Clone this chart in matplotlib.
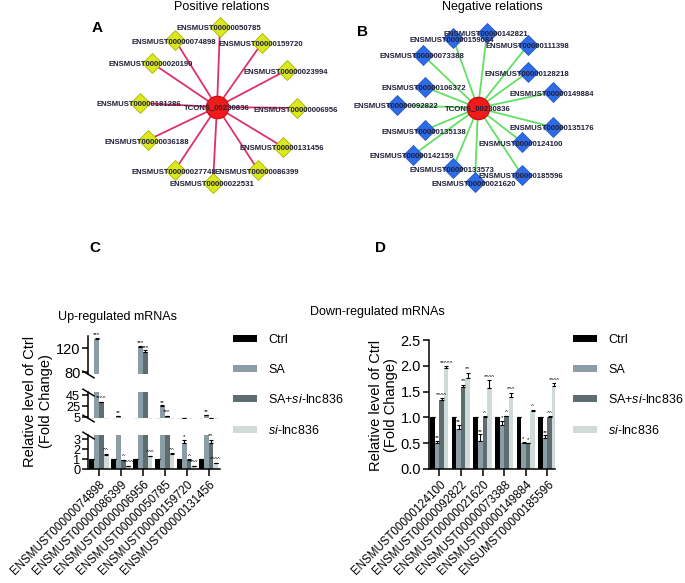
import matplotlib
matplotlib.use('Agg')
import matplotlib.pyplot as plt
from matplotlib.patches import Patch
import numpy as np

plt.rcParams['font.family'] = ['Liberation Sans', 'DejaVu Sans']
plt.rcParams['mathtext.fontset'] = 'custom'
plt.rcParams['mathtext.rm'] = 'Liberation Sans'
plt.rcParams['mathtext.it'] = 'Liberation Sans:italic'

W, H = 685, 583

# ---- network data (layout positions) ----
hub = 'TCONS_00230836'
pos_hub = (217, 107)
pos_genes = ['ENSMUST00000050785', 'ENSMUST00000074898', 'ENSMUST00000159720',
             'ENSMUST00000020190', 'ENSMUST00000023994', 'ENSMUST00000181286',
             'ENSMUST00000006956', 'ENSMUST00000036188', 'ENSMUST00000131456',
             'ENSMUST00000027748', 'ENSMUST00000086399', 'ENSMUST00000022531']
pos_x = [220, 175, 262, 152, 287, 140, 297, 148, 283, 175, 258, 213]
pos_y = [27, 40, 43, 63, 70, 103, 108, 140, 147, 170, 170, 183]

neg_hub = (478, 108)
neg_genes = ['ENSMUST00000142821', 'ENSMUST00000159084', 'ENSMUST00000111398',
             'ENSMUST00000073388', 'ENSMUST00000128218', 'ENSMUST00000106372',
             'ENSMUST00000149884', 'ENSMUST00000092822', 'ENSMUST00000135138',
             'ENSMUST00000135176', 'ENSMUST00000124100', 'ENSMUST00000142159',
             'ENSMUST00000133573', 'ENSMUST00000185596', 'ENSMUST00000021620']
neg_x = [487, 453, 528, 423, 528, 425, 553, 397, 425, 553, 522, 413, 453, 522, 475]
neg_y = [33, 38, 45, 55, 72, 87, 92, 105, 130, 127, 142, 155, 168, 175, 182]

# ---- bar data ----
groups = ['Ctrl', 'SA', 'SA+$\\mathit{si}$-lnc836', '$\\mathit{si}$-lnc836']
colors = ['#000000', '#8c9ea5', '#5d6d70', '#cfdbd8']

up_genes = ['ENSMUST00000074898', 'ENSMUST00000086399', 'ENSMUST00000006956',
            'ENSMUST00000050785', 'ENSMUST00000159720', 'ENSMUST00000131456']
up_ctrl = [1, 1, 1, 1, 1, 1]
up_sa = [135, 6, 121, 25, 2.6, 8]
up_sa_si = [32, 0.9, 113, 7, 0.9, 2.6]
up_si = [1.4, 0.3, 1.3, 1.5, 0.3, 0.6]
up_ctrl_err = [0, 0, 0, 0, 0, 0]
up_sa_err = [1.5, 0.5, 3, 1.2, 0.3, 0.6]
up_sa_si_err = [1.2, 0.05, 3, 0.5, 0.08, 0.3]
up_si_err = [0.1, 0.05, 0.05, 0.08, 0.04, 0.05]
up_sa_sig = ['***', '**', '***', '**', '*', '**']
up_sa_si_sig = ['**^^', '^', '***', '**^', '^', '*^']
up_si_sig = ['^^', '*^^^', '^^^', '^^', '*^^', '*^^^']

down_genes = ['ENSMUST00000124100', 'ENSMUST00000092822', 'ENSMUST00000021620',
              'ENSMUST00000073388', 'ENSMUST00000149884', 'ENSUMST00000185596']
down_ctrl = [1, 1, 1, 1, 1, 1]
down_sa = [0.5, 0.77, 0.55, 0.85, 0.5, 0.6]
down_sa_si = [1.33, 1.58, 1.0, 1.02, 0.5, 1.0]
down_si = [1.95, 1.77, 1.57, 1.4, 1.13, 1.6]
down_ctrl_err = [0, 0, 0, 0, 0, 0]
down_sa_err = [0.04, 0.08, 0.12, 0.08, 0.03, 0.05]
down_sa_si_err = [0.04, 0.05, 0.02, 0.01, 0.01, 0.02]
down_si_err = [0.04, 0.1, 0.15, 0.08, 0.01, 0.06]
down_sa_sig = ['**', '**', '**', '*', '*', '**']
down_sa_si_sig = ['*^^^', '*^', '^', '^', '*', '^^']
down_si_sig = ['**^^^', '*^', '*^^^', '*^^', '^', '*^^^']


def box(l, t, r, b):
    return [l / W, 1 - b / H, (r - l) / W, (b - t) / H]


fig = plt.figure(figsize=(W / 100, H / 100), dpi=100)

# ---- networks ----
net = fig.add_axes(box(0, 0, W, 235))
net.set_xlim(0, W)
net.set_ylim(235, 0)
net.axis('off')


def draw_net(center, xs, ys, names, edge_c, node_c, node_ec):
    cx, cy = center
    for x, y in zip(xs, ys):
        net.plot([cx, x], [cy, y], color=edge_c, lw=1.3, zorder=1)
    net.plot(xs, ys, 'D', ms=10, mfc=node_c, mec=node_ec, mew=0.6, ls='none', zorder=2)
    for x, y, n in zip(xs, ys, names):
        net.text(x - 1, y + 2, n, fontsize=5.6, fontweight='bold', ha='center', va='center',
                 color='#20203a', zorder=3)
    net.plot(cx, cy, 'o', ms=16, mfc='#f01c1c', mec='#d01010', zorder=2)
    net.text(cx, cy + 1, hub, fontsize=5.6, fontweight='bold', ha='center', va='center',
             color='#20203a', zorder=3)


draw_net(pos_hub, pos_x, pos_y, pos_genes, '#e0306a', '#dbe81c', '#a8b400')
draw_net(neg_hub, neg_x, neg_y, neg_genes, '#62e062', '#2e6be6', '#2a58c0')

fig.text(222 / W, 1 - 7 / H, 'Positive relations', ha='center', va='center', fontsize=9)
fig.text(492 / W, 1 - 7 / H, 'Negative relations', ha='center', va='center', fontsize=9)
for lab, x, y in [('A', 97, 28), ('B', 363, 32), ('C', 95, 248), ('D', 380, 248)]:
    fig.text(x / W, 1 - y / H, lab, ha='center', va='center', fontsize=11, fontweight='bold')


# ---- bar helpers ----
def style(ax, bottom=True, ysize=10.5):
    for s in ['top', 'right']:
        ax.spines[s].set_visible(False)
    ax.spines['left'].set_linewidth(1.1)
    ax.tick_params(axis='y', direction='out', length=4, width=1.1, labelsize=ysize, pad=1.5)
    if bottom:
        ax.spines['bottom'].set_linewidth(1.1)
        ax.tick_params(axis='x', direction='out', length=5, width=1.1, pad=2)
    else:
        ax.spines['bottom'].set_visible(False)
        ax.set_xticks([])
    ax.patch.set_alpha(0)


def draw_bars(ax, series, errs, bw):
    x = np.arange(len(series[0]))
    for i, (vals, err) in enumerate(zip(series, errs)):
        xi = x + (i - 1.5) * bw
        ax.bar(xi, vals, bw, color=colors[i], edgecolor='none', zorder=2)
        ax.errorbar(xi, vals, yerr=[np.zeros(len(err)), err], fmt='none', ecolor='black',
                    elinewidth=0.8, capsize=1.2, capthick=0.8, zorder=3)


def annotate(axes, series, errs, sigs, bw):
    for i in range(1, 4):
        for j, (v, e, s) in enumerate(zip(series[i], errs[i], sigs[i - 1])):
            top = v + e
            for ax in axes:
                lo, hi = ax.get_ylim()
                if lo < top <= hi:
                    ax.annotate(s, (j + (i - 1.5) * bw, top), xytext=(0, 0.5),
                                textcoords='offset points', ha='center', va='bottom',
                                fontsize=4.5, zorder=4)
                    break


def breakmark(ax, y):
    ax.plot([0], [y], transform=ax.transAxes, marker=[(-1, 0.6), (1, -0.6)], ms=9,
            mec='black', mew=1.1, ls='none', clip_on=False, zorder=5)


# ---- panel C (broken axis) ----
bw_c = 0.22
up_series = [up_ctrl, up_sa, up_sa_si, up_si]
up_errs = [up_ctrl_err, up_sa_err, up_sa_si_err, up_si_err]
c_low = fig.add_axes(box(88, 435, 220, 469))
c_mid = fig.add_axes(box(88, 392, 220, 418))
c_top = fig.add_axes(box(88, 336, 220, 374))
for ax, lim, ticks in [(c_low, (0, 3.4), [0, 1, 2, 3]),
                       (c_mid, (3.2, 50.5), [5, 25, 45]),
                       (c_top, (76.7, 140), [80, 120])]:
    draw_bars(ax, up_series, up_errs, bw_c)
    ax.set_ylim(*lim)
    ax.set_yticks(ticks)
    ax.set_xlim(-0.5, 5.52)
    style(ax, bottom=(ax is c_low), ysize=(10.5 if ax is c_top else 9.2))
c_low.set_xticks(np.arange(len(up_genes)))
c_low.set_xticklabels(up_genes, rotation=45, ha='right', rotation_mode='anchor', fontsize=8.3)
annotate([c_low, c_mid, c_top], up_series, up_errs, [up_sa_sig, up_sa_si_sig, up_si_sig], bw_c)
breakmark(c_low, 1)
breakmark(c_mid, 0)
breakmark(c_mid, 1)
breakmark(c_top, 0)

fig.text(118 / W, 1 - 317 / H, 'Up-regulated mRNAs', ha='center', va='center', fontsize=9)
fig.text(38 / W, 1 - 401 / H, 'Relative level of Ctrl\n(Fold Change)', rotation=90,
         ha='center', va='center', fontsize=10.5, linespacing=1.1)

# ---- panel D ----
bw_d = 0.21
down_series = [down_ctrl, down_sa, down_sa_si, down_si]
down_errs = [down_ctrl_err, down_sa_err, down_sa_si_err, down_si_err]
d_ax = fig.add_axes(box(428.5, 340, 555, 469))
draw_bars(d_ax, down_series, down_errs, bw_d)
d_ax.set_ylim(0, 2.5)
d_ax.set_yticks(np.arange(0, 2.51, 0.5))
d_ax.set_yticklabels(['%.1f' % t for t in np.arange(0, 2.51, 0.5)])
d_ax.set_xlim(-0.5, 5.35)
style(d_ax)
d_ax.set_xticks(np.arange(len(down_genes)))
d_ax.set_xticklabels(down_genes, rotation=45, ha='right', rotation_mode='anchor', fontsize=8.3)
annotate([d_ax], down_series, down_errs, [down_sa_sig, down_sa_si_sig, down_si_sig], bw_d)

fig.text(377 / W, 1 - 312 / H, 'Down-regulated mRNAs', ha='center', va='center', fontsize=9)
fig.text(383.5 / W, 1 - 405 / H, 'Relative level of Ctrl\n(Fold Change)', rotation=90,
         ha='center', va='center', fontsize=10.5, linespacing=1.1)

# ---- legends ----
handles = [Patch(facecolor=c, edgecolor='none') for c in colors]
for x0 in [233, 573]:
    fig.legend(handles, groups, loc='center left', bbox_to_anchor=(x0 / W, 1 - 385.5 / H),
               frameon=False, fontsize=9, handlelength=1.9, handleheight=0.45,
               handletextpad=0.9, labelspacing=1.4, borderpad=0, borderaxespad=0)

fig.savefig('out.png', dpi=100)
